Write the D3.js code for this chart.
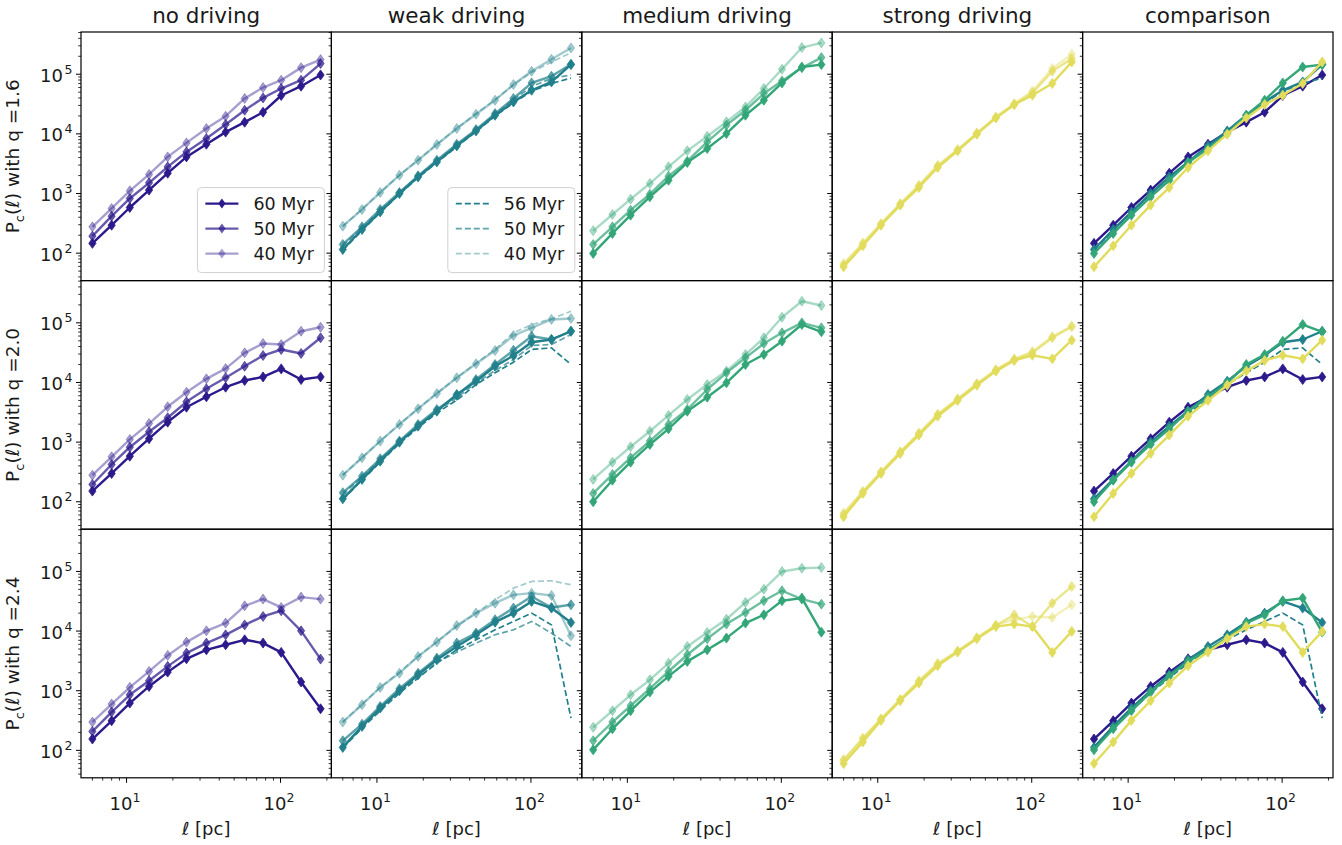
<!DOCTYPE html>
<html>
<head>
<meta charset="utf-8">
<script src="https://cdn.jsdelivr.net/npm/d3@7"></script>
<style>
  body { margin: 0; background: #fff; }
  svg { display: block; }
  text { font-family: "DejaVu Sans", sans-serif; fill: #1a1a1a; }
</style>
</head>
<body>
<div id="chart"></div>
<script>
// ---- data ----
const ell = [6, 8, 10.5, 14, 18.5, 24.5, 33, 44, 58.5, 77, 101, 136, 182];
const columnTitles = ["no driving", "weak driving", "medium driving", "strong driving", "comparison"];
const qLabels = ["1.6", "2.0", "2.4"];
const solidTimes = ["60 Myr", "50 Myr", "40 Myr"];
const dashedTimes = ["56 Myr", "50 Myr", "40 Myr"];
const yTickVals = [1e2, 1e3, 1e4, 1e5];
const yTickExp = ["2", "3", "4", "5"];
const xTickVals = [10, 100];
const xTickExp = ["1", "2"];

// each: [latest, middle, earliest]
const noneQ16 = [
  [146, 294, 583, 1140, 2190, 4110, 6710, 10700, 15700, 23100, 44000, 63000, 97000],
  [193, 417, 826, 1510, 2800, 4990, 8360, 14400, 24900, 40100, 57600, 79400, 151000],
  [276, 561, 1110, 2090, 4110, 7060, 12300, 19800, 39200, 59800, 79400, 129000, 176000]
];
const weakQ16 = [
  [115, 249, 492, 1000, 1900, 3390, 6290, 11200, 20500, 34300, 53900, 74300, 145000],
  [140, 276, 540, 1040, 1980, 3620, 6710, 11800, 21900, 39200, 71500, 92500, 147000],
  [284, 540, 1040, 2030, 3620, 6640, 12300, 21400, 36700, 67200, 112000, 178000, 276000]
];
const weakDashQ16 = [
  [112, 240, 480, 975, 1850, 3300, 6100, 10900, 19800, 33000, 52000, 70000, 86000],
  [132, 265, 520, 1020, 1950, 3550, 6500, 11500, 21200, 37500, 62000, 85000, 97000],
  [282, 545, 1045, 2030, 3650, 6700, 12400, 21800, 37500, 66000, 108000, 160000, 230000]
];
const mediumQ16 = [
  [99, 214, 434, 879, 1670, 3310, 5690, 10100, 20500, 36700, 71500, 132000, 145000],
  [140, 276, 526, 975, 1950, 3480, 7340, 14000, 24900, 47400, 77300, 128000, 190000],
  [237, 445, 804, 1470, 2800, 5190, 9140, 15900, 28300, 57600, 121000, 280000, 335000]
];
const strongQ16 = [
  [59, 133, 294, 638, 1260, 2730, 5190, 9870, 18500, 31000, 44500, 69800, 161000],
  [63, 142, 306, 662, 1330, 2870, 5330, 10100, 18800, 31000, 48600, 112000, 183000],
  [67, 149, 315, 681, 1380, 2990, 5470, 10400, 19200, 32300, 52500, 125000, 216000]
];

const noneQ20 = [
  [151, 298, 581, 1140, 2160, 3850, 5750, 8330, 10800, 12400, 16900, 11200, 12400],
  [195, 422, 822, 1490, 2560, 4740, 7830, 12000, 18700, 28300, 35700, 30600, 56100],
  [279, 568, 1110, 2050, 3910, 6870, 11500, 17100, 31400, 45000, 43300, 72300, 84400]
];
const weakQ20 = [
  [112, 237, 480, 997, 1850, 3300, 6290, 10500, 18700, 28300, 47300, 52500, 72300],
  [142, 269, 526, 1040, 1980, 3520, 6050, 11200, 20000, 34700, 59600, 52500, 72300],
  [279, 547, 1040, 1980, 3620, 6530, 12000, 20600, 34300, 61200, 82500, 114000, 118000]
];
const weakDashQ20 = [
  [109, 230, 461, 948, 1740, 3100, 5050, 9250, 14500, 21900, 35700, 38000, 20000],
  [132, 262, 511, 1000, 1850, 3300, 5520, 9870, 15800, 24300, 41600, 43200, 63700],
  [280, 550, 1040, 2000, 3650, 6600, 12000, 21000, 36000, 68000, 93000, 117000, 156000]
];
const mediumQ20 = [
  [100, 230, 461, 913, 1670, 3300, 5670, 9870, 20000, 29400, 49200, 93700, 70700],
  [138, 287, 547, 1040, 1980, 3520, 7620, 14500, 25900, 45000, 68000, 100000, 82500],
  [237, 461, 836, 1520, 2800, 5190, 9250, 15500, 29400, 56100, 124000, 230000, 195000]
];
const strongQ20 = [
  [56, 138, 298, 645, 1310, 2720, 4990, 9000, 15500, 23400, 28600, 24900, 51100],
  [61, 145, 313, 678, 1380, 2870, 5190, 9350, 16100, 24300, 31400, 56100, 85700],
  [65, 150, 320, 690, 1420, 2950, 5330, 9600, 16500, 24800, 33000, 59000, 89000]
];

const noneQ24 = [
  [155, 313, 621, 1180, 2050, 3430, 4850, 5890, 7140, 6290, 4390, 1400, 498],
  [208, 439, 855, 1470, 2560, 4270, 6290, 8650, 12700, 17600, 21900, 10100, 3390],
  [298, 597, 1140, 2110, 3910, 6530, 10100, 13600, 26500, 34400, 24900, 37100, 34400]
];
const weakQ24 = [
  [112, 252, 511, 1000, 1850, 3300, 5520, 8660, 14100, 20000, 31400, 24300, 13900],
  [145, 275, 545, 1080, 1970, 3520, 6290, 9250, 15500, 24300, 38000, 24900, 27600],
  [298, 582, 1135, 1970, 3750, 6530, 12400, 20000, 29400, 40500, 43200, 39500, 8340]
];
const weakDashQ24 = [
  [109, 236, 461, 912, 1630, 2900, 4850, 7140, 10500, 14500, 20000, 12700, 348],
  [116, 242, 480, 948, 1670, 2980, 4430, 6290, 8660, 10500, 14500, 9250, 5520],
  [298, 597, 1135, 2050, 3760, 6700, 11900, 20000, 33400, 52500, 67900, 69700, 59700]
];
const mediumQ24 = [
  [102, 230, 461, 948, 1740, 3100, 4850, 7620, 13600, 18700, 32200, 35700, 9600],
  [145, 298, 560, 1080, 2100, 4010, 7430, 13100, 20500, 32200, 47400, 34300, 28300],
  [243, 461, 855, 1520, 2900, 5520, 9480, 15800, 30200, 50500, 99500, 113000, 116000]
];
const strongQ24 = [
  [60, 138, 318, 679, 1340, 2620, 4440, 7430, 11900, 13100, 11900, 4380, 9870],
  [68, 157, 334, 705, 1430, 2790, 4550, 7620, 12400, 18700, 11900, 29400, 56000],
  [70, 161, 339, 714, 1470, 2870, 4670, 7820, 12700, 15500, 17600, 16900, 27600]
];

const rows = [
  { none: noneQ16, weak: weakQ16, weakDash: weakDashQ16, medium: mediumQ16, strong: strongQ16 },
  { none: noneQ20, weak: weakQ20, weakDash: weakDashQ20, medium: mediumQ20, strong: strongQ20 },
  { none: noneQ24, weak: weakQ24, weakDash: weakDashQ24, medium: mediumQ24, strong: strongQ24 }
];

const colors = { none: "#2c1a8c", weak: "#21808b", medium: "#33a678", strong: "#e2dc5c" };
const alphas = [1, 0.72, 0.42];

// ---- layout ----
const W = 1342, H = 845;
const left0 = 81, panelW = 250.4, top0 = 32, panelH = 248.6;

const svg = d3.select("#chart").append("svg").attr("width", W).attr("height", H);

const x = d3.scaleLog().domain([5.06, 214]).range([0, panelW]);
const y = d3.scaleLog().domain([Math.pow(10, 1.54), Math.pow(10, 5.708)]).range([panelH, 0]);

const line = d3.line().x((d, i) => x(ell[i])).y(d => y(d));
const diamond = "M0,-5L3.6,0L0,5L-3.6,0Z";

const defs = svg.append("defs");
defs.append("clipPath").attr("id", "clip")
  .append("rect").attr("width", panelW).attr("height", panelH);

function drawSeries(g, vals, color, alpha, dashed) {
  g.append("path")
    .attr("d", line(vals))
    .attr("fill", "none")
    .attr("stroke", color)
    .attr("stroke-opacity", alpha)
    .attr("stroke-width", dashed ? 1.7 : 2.4)
    .attr("stroke-dasharray", dashed ? "6,3" : null)
    .attr("stroke-linejoin", "round");
  if (!dashed) {
    g.selectAll(null).data(vals).enter().append("path")
      .attr("d", diamond)
      .attr("transform", (d, i) => `translate(${x(ell[i])},${y(d)})`)
      .attr("fill", color)
      .attr("fill-opacity", alpha)
      .attr("stroke", color)
      .attr("stroke-opacity", alpha)
      .attr("stroke-width", 0.8);
  }
}

function drawLegend(g, labels, color, dashed) {
  const bw = 127, bh = 85;
  const bx = panelW - 7 - bw, by = panelH - 8 - bh;
  const lg = g.append("g").attr("transform", `translate(${bx},${by})`);
  lg.append("rect").attr("width", bw).attr("height", bh).attr("rx", 4)
    .attr("fill", "#fff").attr("fill-opacity", 0.8)
    .attr("stroke", "#d0d0d0").attr("stroke-width", 1);
  labels.forEach((lab, i) => {
    const ly = 16 + i * 25;
    lg.append("line").attr("x1", 8).attr("x2", 41).attr("y1", ly).attr("y2", ly)
      .attr("stroke", color).attr("stroke-opacity", alphas[i])
      .attr("stroke-width", dashed ? 1.7 : 2.4)
      .attr("stroke-dasharray", dashed ? "6,3" : null);
    if (!dashed) {
      lg.append("path").attr("d", diamond).attr("transform", `translate(24.5,${ly})`)
        .attr("fill", color).attr("fill-opacity", alphas[i]);
    }
    lg.append("text").attr("x", 56).attr("y", ly + 6.5)
      .attr("font-size", "17.5px").text(lab);
  });
}

rows.forEach((row, r) => {
  for (let c = 0; c < 5; c++) {
    const px = left0 + c * panelW, py = top0 + r * panelH;
    const g = svg.append("g").attr("transform", `translate(${px},${py})`);
    const plot = g.append("g").attr("clip-path", "url(#clip)");

    if (c === 0) {
      [2, 1, 0].forEach(k => drawSeries(plot, row.none[k], colors.none, alphas[k], false));
    } else if (c === 1) {
      [2, 1, 0].forEach(k => drawSeries(plot, row.weakDash[k], colors.weak, alphas[k], true));
      [2, 1, 0].forEach(k => drawSeries(plot, row.weak[k], colors.weak, alphas[k], false));
    } else if (c === 2) {
      [2, 1, 0].forEach(k => drawSeries(plot, row.medium[k], colors.medium, alphas[k], false));
    } else if (c === 3) {
      [2, 1, 0].forEach(k => drawSeries(plot, row.strong[k], colors.strong, alphas[k], false));
    } else {
      drawSeries(plot, row.none[0], colors.none, 1, false);
      drawSeries(plot, row.weakDash[0], colors.weak, 1, true);
      drawSeries(plot, row.weak[0], colors.weak, 1, false);
      drawSeries(plot, row.medium[0], colors.medium, 1, false);
      drawSeries(plot, row.strong[0], colors.strong, 1, false);
    }

    // y ticks (left, outward) on every panel
    y.ticks().forEach(t => {
      const major = yTickVals.includes(t);
      g.append("line").attr("x1", major ? -5 : -2.8).attr("x2", 0)
        .attr("y1", y(t)).attr("y2", y(t))
        .attr("stroke", "#000").attr("stroke-width", major ? 1 : 0.8);
    });
    if (c === 0) {
      yTickVals.forEach((t, i) => {
        const tx = g.append("text").attr("x", -18).attr("y", y(t) + 7.5)
          .attr("text-anchor", "end").attr("font-size", "18px");
        tx.append("tspan").text("10");
        tx.append("tspan").attr("x", -8.5).attr("dy", -8).attr("font-size", "12.5px")
          .attr("text-anchor", "end").text(yTickExp[i]);
      });
      const yl = g.append("text")
        .attr("transform", `translate(-62,${panelH / 2}) rotate(-90)`)
        .attr("text-anchor", "middle").attr("font-size", "18.5px");
      yl.append("tspan").text("P");
      yl.append("tspan").attr("dy", 4.5).attr("font-size", "13px").text("c");
      yl.append("tspan").attr("dy", -4.5).text("(");
      yl.append("tspan").attr("font-style", "italic").text("ℓ");
      yl.append("tspan").text(") with q =" + qLabels[r]);
    }

    // x ticks on bottom row
    if (r === 2) {
      x.ticks().forEach(t => {
        const major = xTickVals.includes(t);
        g.append("line").attr("x1", x(t)).attr("x2", x(t))
          .attr("y1", panelH).attr("y2", panelH + (major ? 5 : 2.8))
          .attr("stroke", "#000").attr("stroke-width", major ? 1 : 0.8);
      });
      xTickVals.forEach((t, i) => {
        const tx = g.append("text").attr("x", x(t) - 1.5).attr("y", panelH + 32)
          .attr("text-anchor", "middle").attr("font-size", "18px");
        tx.append("tspan").text("10");
        tx.append("tspan").attr("dy", -8).attr("font-size", "12.5px").text(xTickExp[i]);
      });
      const xl = g.append("text").attr("x", panelW / 2).attr("y", panelH + 57)
        .attr("text-anchor", "middle").attr("font-size", "18px");
      xl.append("tspan").attr("font-style", "italic").text("ℓ");
      xl.append("tspan").text(" [pc]");
    }

    // titles
    if (r === 0) {
      g.append("text").attr("x", panelW / 2).attr("y", -9)
        .attr("text-anchor", "middle").attr("font-size", "21.5px").text(columnTitles[c]);
    }

    // legends
    if (r === 0 && c === 0) drawLegend(g, solidTimes, colors.none, false);
    if (r === 0 && c === 1) drawLegend(g, dashedTimes, colors.weak, true);

    // frame
    g.append("rect").attr("width", panelW).attr("height", panelH)
      .attr("fill", "none").attr("stroke", "#000").attr("stroke-width", 1.2);
  }
});
</script>
</body>
</html>
